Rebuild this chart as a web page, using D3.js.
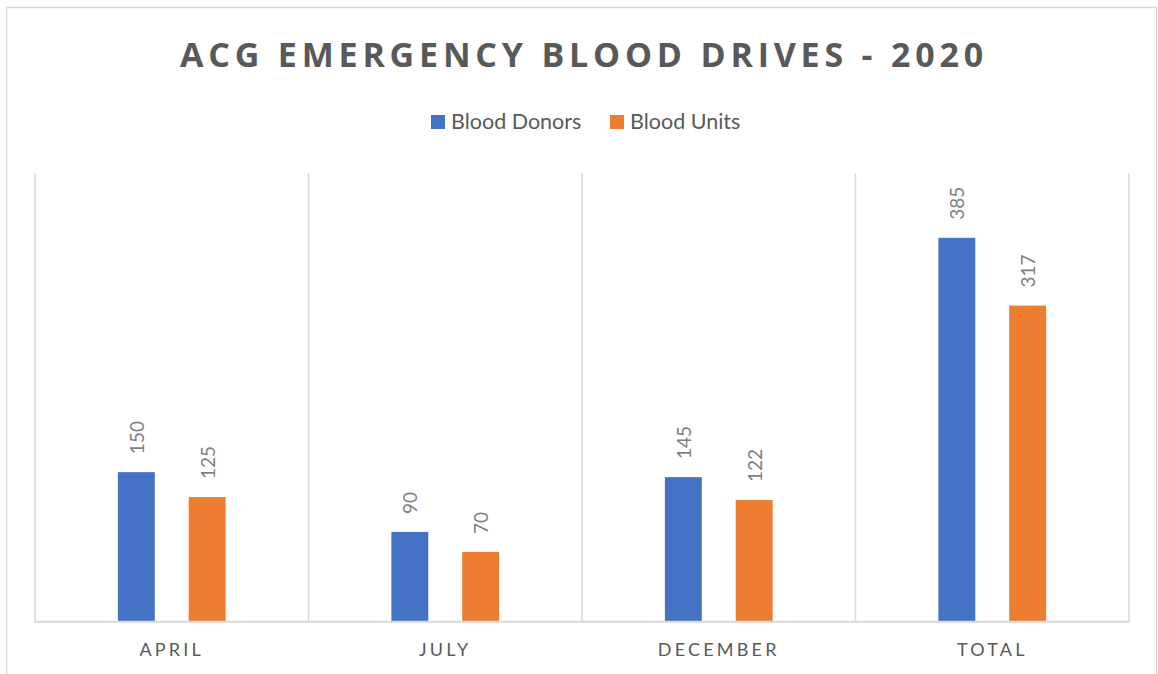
<!DOCTYPE html>
<html>
<head>
<meta charset="utf-8">
<script src="https://cdn.jsdelivr.net/npm/d3@7"></script>
<style>
  html, body { margin: 0; padding: 0; background: #fff; }
  svg { display: block; }
</style>
</head>
<body>
<svg id="chart" width="1158" height="674"></svg>
<script>
const categories = ["APRIL", "JULY", "DECEMBER", "TOTAL"];
const seriesNames = ["Blood Donors", "Blood Units"];
const bloodDonors = [150, 90, 145, 385];
const bloodUnits = [125, 70, 122, 317];
const yMax = 450;
const colors = ["#4472C4", "#ED7D31"];
const title = "ACG EMERGENCY BLOOD DRIVES - 2020";

const svg = d3.select("#chart");
const plot = { left: 35, right: 1129, top: 173, bottom: 621.7 };

// outer border
svg.append("rect")
  .attr("x", 6.5).attr("y", 7.5)
  .attr("width", 1150).attr("height", 700)
  .attr("fill", "#fff").attr("stroke", "#d9d9d9").attr("stroke-width", 1.5);

const x0 = d3.scaleBand().domain(categories).range([plot.left, plot.right]).padding(0);
const x1 = d3.scaleBand().domain(seriesNames).range([0, x0.bandwidth()]).paddingInner(0.479).paddingOuter(1.17);
const y = d3.scaleLinear().domain([0, yMax]).range([plot.bottom, plot.top]);

// vertical category separators
const seps = categories.map(c => x0(c)).concat([plot.right]);
svg.append("g").selectAll("line").data(seps).join("line")
  .attr("x1", d => d).attr("x2", d => d)
  .attr("y1", plot.top).attr("y2", plot.bottom)
  .attr("stroke", "#d9d9d9").attr("stroke-width", 1.5);

// bars
const data = categories.map((c, i) => ({ cat: c, vals: [bloodDonors[i], bloodUnits[i]] }));
const groups = svg.append("g").selectAll("g").data(data).join("g")
  .attr("transform", d => `translate(${x0(d.cat)},0)`);

groups.selectAll("rect").data(d => d.vals.map((v, j) => ({ v, s: seriesNames[j], j })))
  .join("rect")
  .attr("x", d => x1(d.s))
  .attr("width", x1.bandwidth())
  .attr("y", d => y(d.v))
  .attr("height", d => y(0) - y(d.v))
  .attr("fill", d => colors[d.j]);

// data labels (rotated)
groups.selectAll("text").data(d => d.vals.map((v, j) => ({ v, s: seriesNames[j], j })))
  .join("text")
  .attr("transform", d => `translate(${x1(d.s) + x1.bandwidth() / 2},${y(d.v) - 18}) rotate(-90)`)
  .attr("dominant-baseline", "central")
  .attr("text-anchor", "start")
  .attr("font-family", "Lato, 'Open Sans', sans-serif")
  .attr("font-size", 19)
  .attr("fill", "#7f7f7f")
  .text(d => d.v);

// x axis line
svg.append("line")
  .attr("x1", plot.left - 1).attr("x2", plot.right + 1)
  .attr("y1", plot.bottom).attr("y2", plot.bottom)
  .attr("stroke", "#d9d9d9").attr("stroke-width", 2);

// x axis labels
const xAxis = d3.axisBottom(x0).tickSize(0).tickPadding(0);
const gx = svg.append("g").attr("transform", `translate(0,${plot.bottom})`).call(xAxis);
gx.select(".domain").remove();
gx.selectAll("text")
  .attr("y", 34)
  .attr("dy", 0)
  .attr("font-family", "Lato, 'Open Sans', sans-serif")
  .attr("font-size", 18)
  .attr("letter-spacing", "3.2px")
  .attr("fill", "#595959");

// title
svg.append("text")
  .attr("x", 584).attr("y", 67)
  .attr("text-anchor", "middle")
  .attr("font-family", "'Open Sans', sans-serif")
  .attr("font-weight", "bold")
  .attr("font-size", 34)
  .attr("letter-spacing", "4.8px")
  .attr("fill", "#595959")
  .text(title);

// legend
const legend = svg.append("g");
const legendItems = [
  { name: seriesNames[0], color: colors[0], x: 431 },
  { name: seriesNames[1], color: colors[1], x: 610 }
];
legendItems.forEach(it => {
  legend.append("rect").attr("x", it.x).attr("y", 115).attr("width", 14).attr("height", 14).attr("fill", it.color);
  legend.append("text").attr("x", it.x + 20).attr("y", 129)
    .attr("font-family", "Lato, 'Open Sans', sans-serif")
    .attr("font-size", 21.5)
    .attr("fill", "#595959")
    .text(it.name);
});
</script>
</body>
</html>
